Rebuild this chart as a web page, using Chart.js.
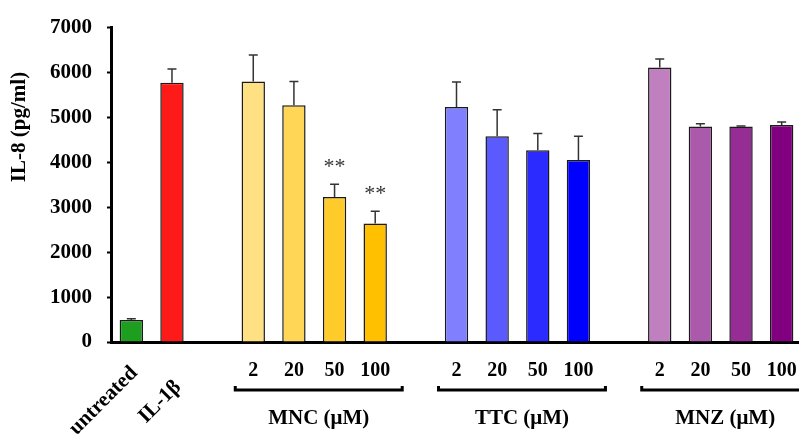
<!DOCTYPE html>
<html>
<head>
<meta charset="utf-8">
<script src="https://cdn.jsdelivr.net/npm/chart.js@4"></script>
<style>
  html, body { margin: 0; padding: 0; overflow: hidden; background: #fff; }
  #wrap { width: 802px; height: 434px; }
</style>
</head>
<body>
<div id="wrap"><canvas id="il8Chart" width="802" height="434"></canvas></div>
<script>
  // values (pg/ml), error bars = upper SD only
  const controlLabels = ['untreated', 'IL-1β'];
  const doseLabels = ['2', '20', '50', '100'];
  const groupNames = ['MNC (μM)', 'TTC (μM)', 'MNZ (μM)'];
  const yTicks = [0, 1000, 2000, 3000, 4000, 5000, 6000, 7000];

  const controlMeans = [490, 5770];
  const controlErrs = [25, 310];
  const mncMeans = [5800, 5270, 3230, 2640];
  const mncErrs = [590, 530, 280, 270];
  const ttcMeans = [5230, 4580, 4270, 4050];
  const ttcErrs = [560, 590, 370, 530];
  const mnzMeans = [6110, 4800, 4800, 4830];
  const mnzErrs = [190, 60, 10, 70];
  const mncStars = ['', '', '**', '**'];

  const controlColors = ['#1e9e1e', '#ff1a1a'];
  const mncColors = ['#ffe083', '#ffd655', '#ffcb2b', '#ffc000'];
  const ttcColors = ['#8080ff', '#5a5aff', '#2b2bff', '#0000ff'];
  const mnzColors = ['#c080c0', '#ab5aab', '#952d95', '#800080'];

  // build one category list: controls, gap, MNC, gap, TTC, gap, MNZ
  const labels = [], values = [], errs = [], colors = [], stars = [], groups = [];
  controlLabels.forEach((l, i) => {
    labels.push(l); values.push(controlMeans[i]); errs.push(controlErrs[i]);
    colors.push(controlColors[i]); stars.push('');
  });
  [[mncMeans, mncErrs, mncColors, mncStars],
   [ttcMeans, ttcErrs, ttcColors, null],
   [mnzMeans, mnzErrs, mnzColors, null]].forEach((g, gi) => {
    labels.push(''); values.push(null); errs.push(null); colors.push('#fff'); stars.push('');
    const start = labels.length;
    doseLabels.forEach((d, i) => {
      labels.push(d); values.push(g[0][i]); errs.push(g[1][i]);
      colors.push(g[2][i]); stars.push(g[3] ? g[3][i] : '');
    });
    groups.push({ name: groupNames[gi], start: start, end: labels.length - 1 });
  });

  const serif = '"Liberation Serif", "Times New Roman", serif';

  const extras = {
    id: 'extras',
    afterDatasetsDraw(chart) {
      const ctx = chart.ctx;
      const y = chart.scales.y;
      const meta = chart.getDatasetMeta(0);
      ctx.save();
      // error bars
      ctx.strokeStyle = '#333';
      ctx.lineWidth = 1.5;
      values.forEach((v, i) => {
        if (v === null) return;
        const cx = meta.data[i].x;
        const yb = y.getPixelForValue(v);
        const yt = y.getPixelForValue(v + errs[i]);
        ctx.beginPath();
        ctx.moveTo(cx, yb); ctx.lineTo(cx, yt);
        ctx.moveTo(cx - 4.5, yt); ctx.lineTo(cx + 4.5, yt);
        ctx.stroke();
        if (stars[i]) {
          ctx.fillStyle = '#333';
          ctx.font = '22px ' + serif;
          ctx.textAlign = 'center';
          ctx.textBaseline = 'alphabetic';
          ctx.fillText(stars[i], cx, yt - 11);
        }
      });
      ctx.restore();
    },
    afterDraw(chart) {
      const ctx = chart.ctx;
      const x = chart.scales.x;
      const base = chart.chartArea.bottom;
      ctx.save();
      ctx.fillStyle = '#000';
      ctx.strokeStyle = '#000';
      // y title
      ctx.font = 'bold 21px ' + serif;
      ctx.textAlign = 'center';
      ctx.textBaseline = 'middle';
      ctx.translate(20, 127);
      ctx.rotate(-Math.PI / 2);
      ctx.fillText('IL-8 (pg/ml)', 0, 0);
      ctx.setTransform(1, 0, 0, 1, 0, 0);
      // rotated control labels
      const rotOff = [[3, 28], [6, 42]];
      controlLabels.forEach((l, i) => {
        const px = x.getPixelForValue(i) + rotOff[i][0];
        const py = base + rotOff[i][1];
        ctx.save();
        ctx.translate(px, py);
        ctx.rotate(-Math.PI / 4);
        ctx.textAlign = 'right';
        ctx.textBaseline = 'middle';
        ctx.fillText(l, 0, 0);
        ctx.restore();
      });
      // group brackets and names
      groups.forEach(g => {
        const x1 = x.getPixelForValue(g.start) - 18;
        const x2 = x.getPixelForValue(g.end) + 27;
        const by = base + 48;
        ctx.lineWidth = 3;
        ctx.beginPath();
        ctx.moveTo(x1, by - 4); ctx.lineTo(x1, by);
        ctx.lineTo(x2, by); ctx.lineTo(x2, by - 4);
        ctx.stroke();
        ctx.textAlign = 'center';
        ctx.textBaseline = 'middle';
        ctx.fillText(g.name, (x1 + x2) / 2, base + 77);
      });
      ctx.restore();
    }
  };

  new Chart(document.getElementById('il8Chart'), {
    type: 'bar',
    data: {
      labels: labels,
      datasets: [{
        data: values,
        backgroundColor: colors,
        borderColor: '#1a1a1a',
        borderWidth: 1.5,
        categoryPercentage: 1,
        barPercentage: 0.575
      }]
    },
    options: {
      responsive: false,
      animation: false,
      layout: { padding: { top: 25, right: 0, bottom: 0, left: 0 } },
      scales: {
        x: {
          grid: { display: false },
          border: { color: '#000', width: 3 },
          ticks: {
            autoSkip: false, maxRotation: 0, minRotation: 0, padding: 9,
            color: '#000',
            font: { family: serif, size: 20, weight: 'bold' },
            callback: (v, i) => (i < controlLabels.length ? '' : labels[i])
          },
          afterFit: s => { s.height = 92; s.paddingLeft = 0; s.paddingRight = 0; }
        },
        y: {
          min: 0, max: 7000,
          grid: { drawOnChartArea: false, tickLength: 4, tickColor: '#000', tickWidth: 2 },
          border: { color: '#000', width: 3 },
          afterBuildTicks: s => { s.ticks = yTicks.map(v => ({ value: v })); },
          ticks: {
            padding: 15, color: '#000',
            font: { family: serif, size: 21, weight: 'bold' },
            callback: v => String(v)
          },
          afterFit: s => { s.width = 111; }
        }
      },
      plugins: {
        legend: { display: false },
        title: { display: false },
        tooltip: { enabled: false }
      }
    },
    plugins: [extras]
  });
</script>
</body>
</html>
